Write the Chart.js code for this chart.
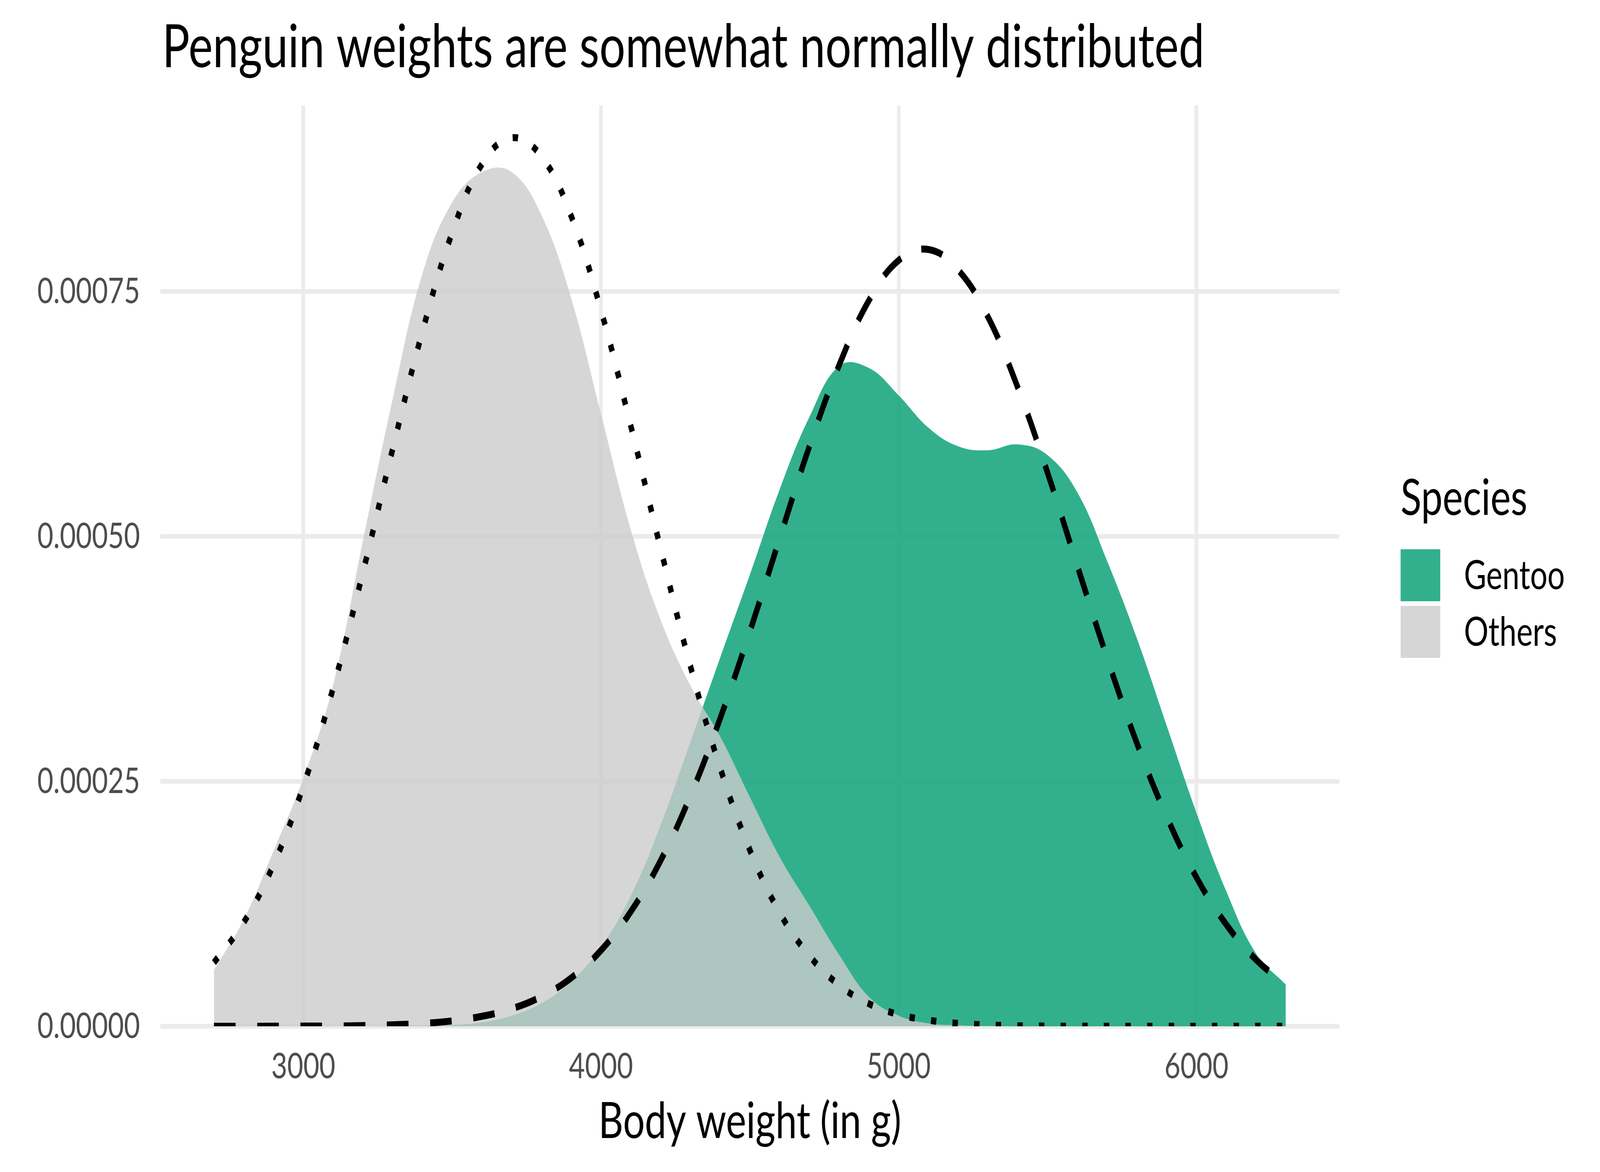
<!DOCTYPE html>
<html>
<head>
<meta charset="utf-8">
<title>Penguin weights</title>
<script src="https://cdn.jsdelivr.net/npm/chart.js@4.4.1/dist/chart.umd.min.js"></script>
<style>
  html, body { margin: 0; padding: 0; background: #fff; width: 100%; height: 100%; overflow: hidden; }
  #chart { display: block; }
</style>
</head>
<body>
<!-- drawn at 5328x3000, stretched to whatever window we get -->
<canvas id="chart" width="5328" height="3000" style="width:100vw;height:100vh"></canvas>
<script>
// body weight (g) where the curves are sampled
const weights = [
	2700, 2800, 2900, 3000, 3100, 3200, 3300, 3400, 3500, 3600,
	3700, 3800, 3900, 4000, 4100, 4200, 4300, 4400, 4500, 4600,
	4700, 4800, 4900, 5000, 5100, 5200, 5300, 5400, 5500, 5600,
	5700, 5800, 5900, 6000, 6100, 6200, 6300,
];

// kernel density, Gentoo
const gentooDensity = [
	0, 0, 0, 0, 0, 0, 0.0000002, 0.0000005, 0.0000013, 0.000004,
	0.0000108, 0.0000235, 0.0000458, 0.0000808, 0.000133, 0.000205, 0.00029, 0.000376, 0.000461, 0.000548,
	0.000622, 0.000674, 0.000672, 0.000644, 0.000611, 0.000592, 0.000588, 0.000594, 0.000583, 0.000545,
	0.000475, 0.000396, 0.000307, 0.000218, 0.000138, 0.0000744, 0.0000426,
];

// kernel density, Adelie + Chinstrap
const othersDensity = [
	0.0000573, 0.000109, 0.000179, 0.000253, 0.000348, 0.000495, 0.00064, 0.000768, 0.000841, 0.000872,
	0.000872, 0.000828, 0.000743, 0.000625, 0.000507, 0.000415, 0.000348, 0.000296, 0.000234, 0.000173,
	0.000123, 0.000073, 0.00003, 0.0000108, 0.000003, 0.000001, 0.0000003, 0, 0, 0,
	0, 0, 0, 0, 0, 0, 0,
];

// fitted normal curve, Gentoo (dashed)
const gentooNormal = [
	0, 0, 0.0000001, 0.0000002, 0.0000003, 0.0000007, 0.0000015, 0.0000029, 0.0000055, 0.0000102,
	0.0000179, 0.0000304, 0.0000494, 0.0000775, 0.000117, 0.000169, 0.000235, 0.000314, 0.000403, 0.000498,
	0.000592, 0.000675, 0.000741, 0.000782, 0.000793, 0.000772, 0.000724, 0.000652, 0.000565, 0.00047,
	0.000376, 0.000289, 0.000214, 0.000152, 0.000104, 0.000068, 0.0000428,
];

// fitted normal curve, others (dotted)
const othersNormal = [
	0.000065, 0.000106, 0.000165, 0.000245, 0.000345, 0.000463, 0.000589, 0.000709, 0.00081, 0.00088,
	0.000907, 0.000888, 0.000827, 0.000731, 0.000613, 0.000488, 0.000368, 0.000264, 0.00018, 0.000116,
	0.000072, 0.000042, 0.000023, 0.000012, 0.0000062, 0.0000029, 0.0000013, 0.0000005, 0.0000002, 0.0000001,
	0, 0, 0, 0, 0, 0, 0,
];

const species = ["Gentoo", "Others"];
const xTicks = [3000, 4000, 5000, 6000];
const yTicks = [0, 0.00025, 0.0005, 0.00075];

const titleText = "Penguin weights are somewhat normally distributed";
const xTitle = "Body weight (in g)";
const legendTitle = "Species";

const fontFamily = "Lato, 'Noto Sans', sans-serif";
const gentooFill = "rgba(28, 167, 129, 0.9)";
const othersFill = "rgba(204, 204, 204, 0.8)";

const toPoints = (ys) => weights.map((w, i) => ({ x: w, y: ys[i] }));

// title, x axis title and the legend, drawn like ggplot does
const ggText = {
	id: "ggText",
	beforeDraw(chart) {
		const ctx = chart.ctx;
		ctx.save();
		ctx.fillStyle = "#ffffff";
		ctx.fillRect(0, 0, chart.width, chart.height);
		ctx.restore();
	},
	afterDraw(chart) {
		const { ctx, chartArea } = chart;
		ctx.save();
		ctx.fillStyle = "#000000";
		ctx.textBaseline = "alphabetic";

		ctx.textAlign = "left";
		ctx.font = "153px " + fontFamily;
		ctx.fillText(titleText, 540, 172);

		ctx.textAlign = "center";
		ctx.font = "128px " + fontFamily;
		ctx.fillText(xTitle, (chartArea.left + chartArea.right) / 2, 2913);

		// legend
		ctx.textAlign = "left";
		ctx.fillText(legendTitle, 4664, 1318);
		ctx.font = "102px " + fontFamily;
		species.forEach((name, i) => {
			const top = 1406 + i * 145;
			ctx.fillStyle = chart.data.datasets[i].backgroundColor;
			ctx.fillRect(4664, top, 132, 133);
			ctx.fillStyle = "#000000";
			ctx.fillText(name, 4875, top + 102);
		});
		ctx.restore();
	},
};

const ctx = document.getElementById("chart").getContext("2d");
const penguinChart = new Chart(ctx, {
	type: "line",
	data: {
		datasets: [
			{
				label: species[0],
				data: toPoints(gentooDensity),
				backgroundColor: gentooFill,
				borderColor: "rgba(0,0,0,0)",
				borderWidth: 0,
				fill: "origin",
				order: 3,
			},
			{
				label: species[1],
				data: toPoints(othersDensity),
				backgroundColor: othersFill,
				borderColor: "rgba(0,0,0,0)",
				borderWidth: 0,
				fill: "origin",
				order: 2,
			},
			{
				label: "Gentoo normal",
				data: toPoints(gentooNormal),
				borderColor: "#000000",
				borderWidth: 18,
				borderDash: [72, 72],
				fill: false,
				order: 1,
			},
			{
				label: "Others normal",
				data: toPoints(othersNormal),
				borderColor: "#000000",
				borderWidth: 18,
				borderDash: [18, 54],
				fill: false,
				order: 0,
			},
		],
	},
	options: {
		responsive: false,
		devicePixelRatio: 1,
		animation: false,
		clip: 0,
		layout: {
			padding: { top: 270, right: 868, bottom: 0, left: 0 },
		},
		elements: {
			point: { radius: 0 },
			line: {
				tension: 0.4,
				borderCapStyle: "butt",
				borderJoinStyle: "round",
			},
		},
		scales: {
			x: {
				type: "linear",
				min: 2520,
				max: 6480,
				afterBuildTicks: (scale) => {
					scale.ticks = xTicks.map((v) => ({ value: v }));
				},
				afterFit: (scale) => {
					scale.height = 373;
				},
				grid: { color: "#ebebeb", lineWidth: 12, drawTicks: false },
				border: { display: false },
				ticks: {
					padding: 48,
					color: "#4d4d4d",
					maxRotation: 0,
					font: { family: fontFamily, size: 92 },
					callback: (v) => String(v),
				},
			},
			y: {
				type: "linear",
				min: 0,
				max: 0.00094,
				afterBuildTicks: (scale) => {
					scale.ticks = yTicks.map((v) => ({ value: v }));
				},
				afterFit: (scale) => {
					scale.width = 534;
				},
				grid: { color: "#ebebeb", lineWidth: 12, drawTicks: false },
				border: { display: false },
				ticks: {
					padding: 68,
					color: "#4d4d4d",
					font: { family: fontFamily, size: 92 },
					callback: (v) => v.toFixed(5),
				},
			},
		},
		plugins: {
			legend: { display: false },
			tooltip: { enabled: false },
		},
	},
	plugins: [ggText],
});
</script>
</body>
</html>
